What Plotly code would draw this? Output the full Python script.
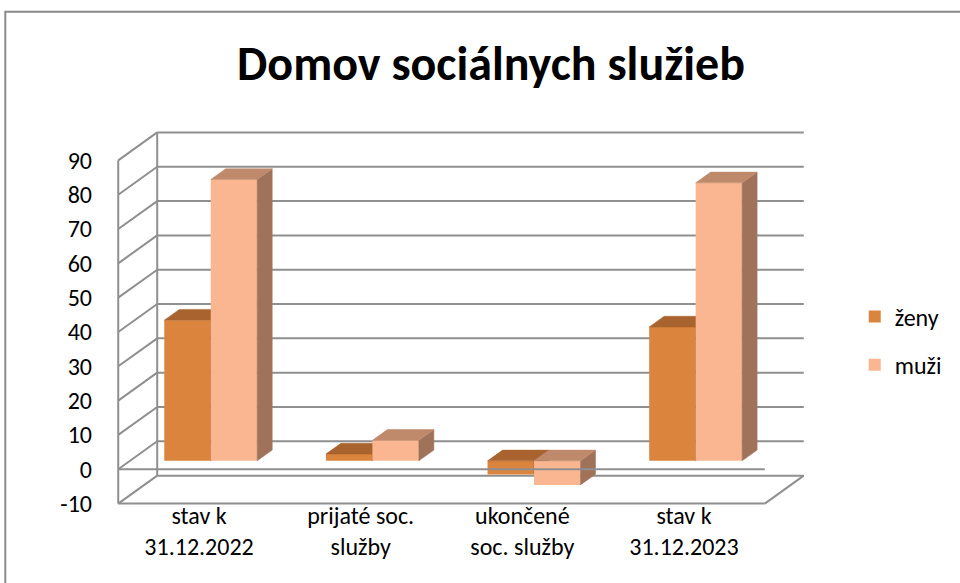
import plotly.graph_objects as go

# ---------------- data ----------------
categories = ["stav k<br>31.12.2022", "prijaté soc.<br>služby", "ukončené<br>soc. služby", "stav k<br>31.12.2023"]
zeny = [41, 2, -4, 39]
muzi = [82, 6, -7, 81]
y_ticks = [-10, 0, 10, 20, 30, 40, 50, 60, 70, 80, 90]
series_names = ["ženy", "muži"]
title_text = "Domov sociálnych služieb"

# ---------------- styling / pseudo-3D projection ----------------
FONT = "Carlito, Lato, 'Open Sans', sans-serif"
GRID = "#8f8f8f"
C_Z_FRONT, C_Z_TOP, C_Z_SIDE = "#DB843D", "#A8632F", "#9E5A2A"
C_M_FRONT, C_M_TOP, C_M_SIDE = "#F9B690", "#BF8A6B", "#A0725A"

CAT_PX = 161.75          # pixels per category
UNIT_PX = 3.44           # pixels per value unit
D_X = 39 / CAT_PX        # wall depth (x units)
D_Y = 28 / UNIT_PX       # wall depth (y units)
F0 = 0.30                # depth position of bar front faces
BD = 0.385               # bar depth as fraction of wall depth
W = 46.5 / CAT_PX        # bar width

n = len(categories)
X_MIN, X_MAX = -0.5, n - 0.5
Y_MIN, Y_MAX = y_ticks[0], y_ticks[-1]
PAD_X, PAD_Y = 0.02, 1.0
xr = [X_MIN - PAD_X, X_MAX + D_X + PAD_X]
yr = [Y_MIN - PAD_Y, Y_MAX + D_Y + PAD_Y]

left_px = 118 - PAD_X * CAT_PX
right_px = left_px + (xr[1] - xr[0]) * CAT_PX
bottom_px = 504 + PAD_Y * UNIT_PX
top_px = bottom_px - (yr[1] - yr[0]) * UNIT_PX
plot_w = right_px - left_px
plot_h = bottom_px - top_px

def px_to_paper_x(px):
    return (px - left_px) / plot_w

def px_to_paper_y(py):
    return (bottom_px - py) / plot_h

fig = go.Figure()

base = F0 * D_Y
xc = [i + F0 * D_X for i in range(n)]
bdx, bdy = BD * D_X, BD * D_Y


def faces(vals, offset):
    tx, ty, sx, sy = [], [], [], []
    for i, v in enumerate(vals):
        xl = xc[i] + offset
        xrr = xl + W
        yt = base + max(v, 0)
        yb = base + min(v, 0)
        tx += [xl, xrr, xrr + bdx, xl + bdx, xl, None]
        ty += [yt, yt, yt + bdy, yt + bdy, yt, None]
        sx += [xrr, xrr, xrr + bdx, xrr + bdx, xrr, None]
        sy += [yb, yt, yt + bdy, yb + bdy, yb, None]
    return tx, ty, sx, sy


specs = [
    (zeny, series_names[0], -W, C_Z_FRONT, C_Z_TOP, C_Z_SIDE, "x", "y"),
    (muzi, series_names[1], 0.0, C_M_FRONT, C_M_TOP, C_M_SIDE, "x2", "y2"),
]
for vals, name, off, cf, ct, cs, xa, ya in specs:
    tx, ty, sx, sy = faces(vals, off)
    fig.add_trace(go.Scatter(x=sx, y=sy, mode="lines", fill="toself", fillcolor=cs,
                             line=dict(color=cs, width=0.5), showlegend=False,
                             hoverinfo="skip", xaxis=xa, yaxis=ya))
    fig.add_trace(go.Scatter(x=tx, y=ty, mode="lines", fill="toself", fillcolor=ct,
                             line=dict(color=ct, width=0.5), showlegend=False,
                             hoverinfo="skip", xaxis=xa, yaxis=ya))
    fig.add_trace(go.Bar(x=xc, y=vals, base=base, width=W, offset=off, name=name,
                         marker=dict(color=cf, line=dict(width=0)),
                         legendgroup=name, xaxis=xa, yaxis=ya))

# walls / gridlines
shapes = []
bx0 = X_MIN + D_X
for v in y_ticks:
    shapes.append(dict(type="line", xref="x", yref="y", x0=bx0, y0=v + D_Y, x1=X_MAX + D_X, y1=v + D_Y,
                       line=dict(color=GRID, width=2), layer="below"))
    shapes.append(dict(type="line", xref="x", yref="y", x0=X_MIN, y0=v, x1=bx0, y1=v + D_Y,
                       line=dict(color=GRID, width=2), layer="below"))
shapes.append(dict(type="line", xref="x", yref="y", x0=X_MIN, y0=Y_MIN, x1=X_MIN, y1=Y_MAX,
                   line=dict(color=GRID, width=2), layer="below"))
shapes.append(dict(type="line", xref="x", yref="y", x0=bx0, y0=Y_MIN + D_Y, x1=bx0, y1=Y_MAX + D_Y,
                   line=dict(color=GRID, width=2), layer="below"))
shapes.append(dict(type="line", xref="x", yref="y", x0=X_MIN, y0=Y_MIN, x1=X_MAX, y1=Y_MIN,
                   line=dict(color=GRID, width=2), layer="below"))
shapes.append(dict(type="line", xref="x", yref="y", x0=X_MAX, y0=Y_MIN, x1=X_MAX + D_X, y1=Y_MIN + D_Y,
                   line=dict(color=GRID, width=2), layer="below"))
shapes.append(dict(type="line", xref="x", yref="y", x0=X_MIN, y0=0, x1=X_MAX, y1=0,
                   line=dict(color=GRID, width=2), layer="above"))
# outer chart border
shapes.append(dict(type="rect", xref="paper", yref="paper",
                   x0=px_to_paper_x(5), y0=px_to_paper_y(700), x1=px_to_paper_x(1100), y1=px_to_paper_y(11),
                   line=dict(color="#8a8a8a", width=2), layer="below"))

fig.update_layout(
    width=960, height=583,
    margin=dict(l=left_px, r=960 - right_px, t=top_px, b=583 - bottom_px, autoexpand=False),
    paper_bgcolor="white", plot_bgcolor="white",
    barmode="overlay",
    font=dict(family=FONT, size=24, color="#000000"),
    title=dict(text=title_text, x=491 / 960, xref="container", xanchor="center",
               y=1 - 63 / 583, yref="container", yanchor="middle",
               font=dict(family=FONT, size=48, color="#000000", weight="bold")),
    showlegend=True,
    legend=dict(x=px_to_paper_x(855), xanchor="left", y=px_to_paper_y(341), yanchor="middle",
                traceorder="grouped", tracegroupgap=14, font=dict(size=24),
                bgcolor="rgba(0,0,0,0)"),
    shapes=shapes,
    xaxis=dict(range=xr, tickmode="array", tickvals=list(range(n)), ticktext=categories,
               showgrid=False, zeroline=False, showline=False, ticks="",
               fixedrange=True, ticklabelstandoff=-8),
    yaxis=dict(range=yr, tickmode="array", tickvals=y_ticks, ticktext=[str(t) for t in y_ticks],
               showgrid=False, zeroline=False, showline=False, ticks="",
               fixedrange=True, ticklabelstandoff=22),
    xaxis2=dict(range=xr, overlaying="x", visible=False, fixedrange=True),
    yaxis2=dict(range=yr, overlaying="y", visible=False, fixedrange=True),
)

fig.write_html("out.html", config={"displayModeBar": False},
               post_script="document.body.style.margin='0px';document.body.style.padding='0px';")
